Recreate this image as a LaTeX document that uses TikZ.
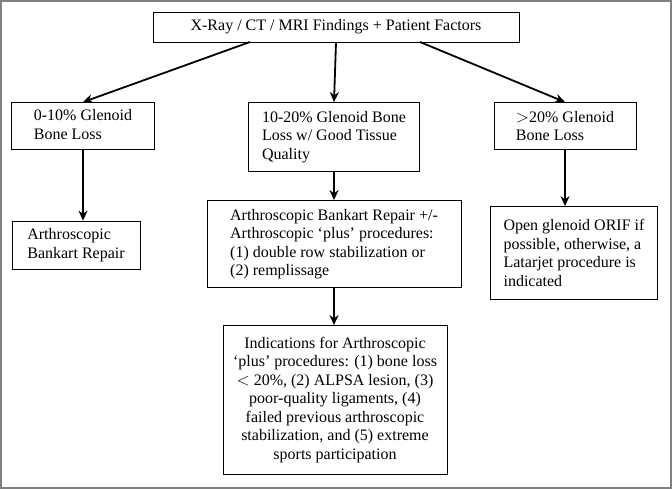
\documentclass[tikz,border=0pt]{standalone}
\usepackage{fontspec}
\setmainfont{Liberation Serif}
\usetikzlibrary{arrows.meta}
\begin{document}
\begin{tikzpicture}[x=1pt,y=-1pt,>={Stealth[length=10pt,width=9pt]}]
  \tikzstyle{box}=[draw,thick,inner sep=2pt,font=\fontsize{16}{18.5}\selectfont]
  \tikzstyle{flow}=[->,line width=1.8pt]
  \useasboundingbox (0,0) rectangle (672,489);
  \draw[gray,line width=1.2pt] (1,1) rectangle (671,488);
  \node [box,minimum width=366,minimum height=30] (top) at (336,27)
    {X-Ray / CT / MRI Findings + Patient Factors};
  \node [box,align=left,minimum width=143,minimum height=47] (low) at (83,126)
    {0-10\% Glenoid\\Bone Loss\phantom{p}};
  \node [box,align=left,minimum width=171,minimum height=69] (mid) at (334,137)
    {10-20\% Glenoid Bone\\Loss w/ Good Tissue\\Quality};
  \node [box,align=left,minimum width=142,minimum height=47] (high) at (565,126)
    {$>$20\% Glenoid\\Bone Loss};
  \node [box,align=left,minimum width=128,minimum height=48] (bankart) at (76,245)
    {Arthroscopic\\Bankart Repair};
  \node [box,align=left,minimum width=254,minimum height=87] (plus) at (334,244)
    {Arthroscopic Bankart Repair +/-\\Arthroscopic `plus' procedures:\\(1) double row stabilization or\\(2) remplissage};
  \node [box,align=left,minimum width=167,minimum height=93] (orif) at (574,253)
    {Open glenoid ORIF if\\possible, otherwise, a\\Latarjet procedure is\\indicated};
  \node [box,align=center,minimum width=224,minimum height=149] (ind) at (335,400)
    {Indications for Arthroscopic\\`plus' procedures: (1) bone loss\\$<$ 20\%, (2) ALPSA lesion, (3)\\poor-quality ligaments, (4)\\failed previous arthroscopic\\stabilization, and (5) extreme\\sports participation};
  % arrows
  \coordinate (topL) at (250,42);
  \coordinate (topR) at (420,42);
  \draw [flow] (topL) -- (low.north);
  \draw [flow] (top.south) -- (mid.north);
  \draw [flow] (topR) -- (high.north);
  \draw [flow] (low.south) -- (low.south |- bankart.north);
  \draw [flow] (mid.south) -- (mid.south |- plus.north);
  \draw [flow] (high.south) -- (high.south |- orif.north);
  \draw [flow] (plus.south) -- (plus.south |- ind.north);
\end{tikzpicture}
\end{document}
